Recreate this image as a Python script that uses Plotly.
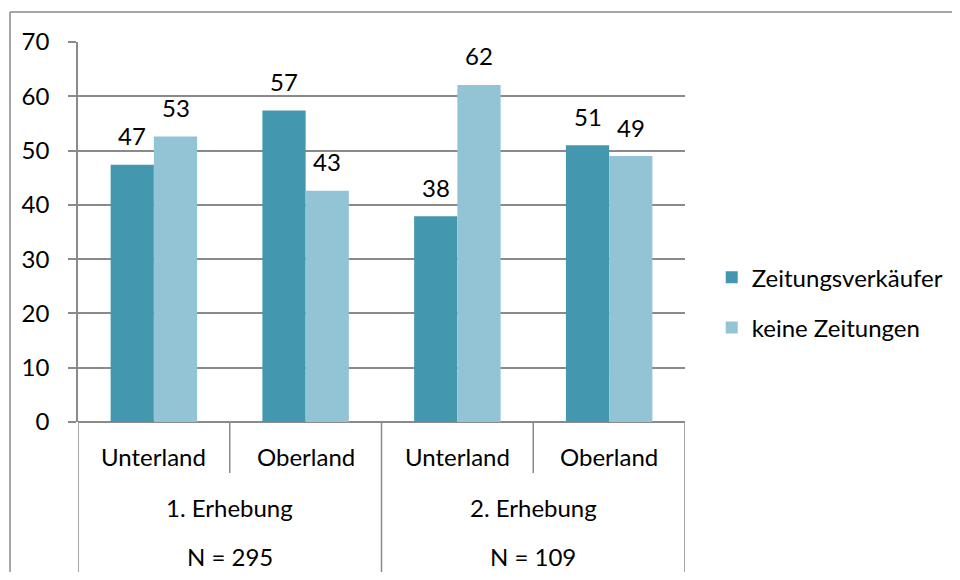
import plotly.graph_objects as go

# data
regions = ["Unterland", "Oberland", "Unterland", "Oberland"]
erhebungen = ["1. Erhebung", "2. Erhebung"]
stichproben = ["N = 295", "N = 109"]
zeitungsverkaeufer = [47.4, 57.4, 37.9, 51.0]
keine_zeitungen = [52.6, 42.6, 62.1, 49.0]
y_ticks = [0, 10, 20, 30, 40, 50, 60, 70]

FONT = "Lato"
FS = 24
GRID = "#8a8a8a"
DARK = "#4398B0"
LIGHT = "#93C4D5"
BARGAP = 0.43

pos = list(range(len(regions)))

fig = go.Figure()
fig.add_trace(go.Bar(x=pos, y=zeitungsverkaeufer, name="Zeitungsverkäufer",
                     marker_color=DARK, marker_line_width=0, legendgroup="a"))
fig.add_trace(go.Bar(x=pos, y=keine_zeitungen, name="keine Zeitungen",
                     marker_color=LIGHT, marker_line_width=0, legendgroup="b"))

# value labels above bars
half = (1 - BARGAP) / 4
for series, off in [(zeitungsverkaeufer, -half), (keine_zeitungen, half)]:
    for p, v in zip(pos, series):
        fig.add_annotation(x=p + off, y=v, text=f"{v:.0f}", showarrow=False,
                           yanchor="middle", yshift=29,
                           font=dict(family=FONT, size=FS, color="black"))

# multi-level category labels
for p, r in zip(pos, regions):
    fig.add_annotation(x=p, y=-0.092, xref="x", yref="paper", text=r, showarrow=False,
                       yanchor="middle", font=dict(family=FONT, size=FS, color="black"))
for i, (e, n) in enumerate(zip(erhebungen, stichproben)):
    cx = (pos[2 * i] + pos[2 * i + 1]) / 2
    fig.add_annotation(x=cx, y=-0.226, xref="x", yref="paper", text=e, showarrow=False,
                       yanchor="middle", font=dict(family=FONT, size=FS, color="black"))
    fig.add_annotation(x=cx, y=-0.355, xref="x", yref="paper", text=n, showarrow=False,
                       yanchor="middle", font=dict(family=FONT, size=FS, color="black"))

# divider lines below the axis
for b in [-0.5, 0.5, 1.5, 2.5, 3.5]:
    bottom = -0.134 if b in (0.5, 2.5) else -0.41
    fig.add_shape(type="line", xref="x", yref="paper", x0=b, x1=b, y0=0, y1=bottom,
                  line=dict(color=GRID, width=1.5))

# outer chart border: left and top edges
fig.add_shape(type="line", xref="paper", yref="paper", x0=-0.112, x1=-0.112, y0=-0.42, y1=1.079,
              line=dict(color=GRID, width=1.5))
fig.add_shape(type="line", xref="paper", yref="paper", x0=-0.112, x1=1.45, y0=1.079, y1=1.079,
              line=dict(color=GRID, width=1.5))

# page body has an 8px margin on every side; keep the figure inside the window
fig.update_layout(
    width=944, height=564,
    margin=dict(l=70, r=267, t=34, b=150, autoexpand=False),
    paper_bgcolor="white", plot_bgcolor="white",
    barmode="group", bargap=BARGAP, bargroupgap=0,
    font=dict(family=FONT, size=FS, color="black"),
    legend=dict(x=1.044, y=0.314, xanchor="left", yanchor="middle",
                traceorder="grouped", tracegroupgap=16,
                font=dict(family=FONT, size=FS, color="black")),
)
fig.update_xaxes(range=[-0.5, 3.5], showticklabels=False, showgrid=False,
                 zeroline=False, showline=False, ticks="")
fig.update_yaxes(range=[0, 70], tickvals=y_ticks, showgrid=True, gridcolor=GRID, gridwidth=1.5,
                 zeroline=True, zerolinecolor=GRID, zerolinewidth=1.5,
                 showline=True, linecolor=GRID, linewidth=1.5,
                 ticks="outside", ticklen=8, tickcolor=GRID, tickwidth=1.5,
                 ticklabelstandoff=14, tickfont=dict(family=FONT, size=FS, color="black"))

fig.write_html("out.html")
